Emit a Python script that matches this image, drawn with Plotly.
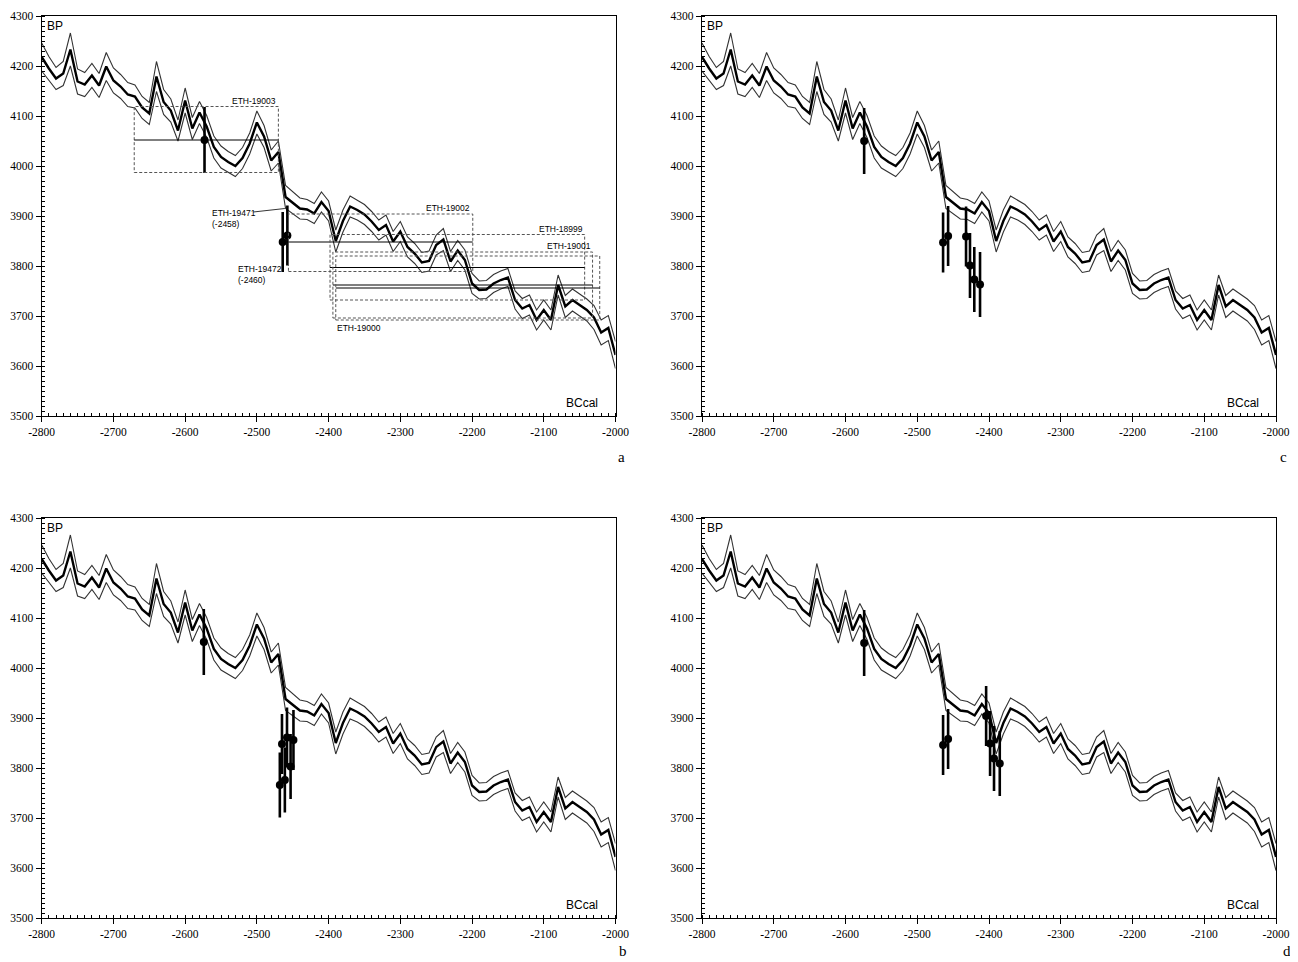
import plotly.graph_objects as go

# ---------------- calibration curve (BC cal vs BP) ----------------
years = list(range(-2800, -1999, 10))
bp_curve = [
    4218, 4195, 4175, 4185, 4233, 4169, 4163, 4181, 4161, 4199,   # -2800..-2710
    4171, 4159, 4143, 4139, 4117, 4105, 4179, 4128, 4111, 4071,   # -2700..-2610
    4131, 4075, 4107, 4079, 4038, 4018, 4008, 4000, 4016, 4045,   # -2600..-2510
    4087, 4059, 4011, 4028, 3938, 3926, 3915, 3913, 3905, 3928,   # -2500..-2410
    3910, 3850, 3890, 3919, 3912, 3903, 3889, 3872, 3882, 3849,   # -2400..-2310
    3869, 3838, 3825, 3807, 3810, 3842, 3853, 3809, 3831, 3812,   # -2300..-2210
    3765, 3752, 3753, 3765, 3772, 3777, 3732, 3715, 3722, 3692,   # -2200..-2110
    3712, 3692, 3762, 3719, 3732, 3722, 3712, 3697, 3667, 3676,   # -2100..-2010
    3622,                                                         # -2000
]
bp_sigma = [
    28, 24, 22, 24, 33, 25, 24, 24, 24, 28,
    25, 24, 24, 23, 22, 22, 30, 25, 23, 21,
    25, 22, 22, 22, 22, 22, 21, 21, 21, 21,
    23, 22, 21, 22, 23, 22, 21, 20, 20, 20,
    20, 22, 22, 21, 20, 20, 20, 20, 20, 20,
    20, 20, 20, 20, 20, 20, 22, 20, 20, 20,
    20, 18, 18, 18, 18, 18, 18, 20, 20, 20,
    20, 20, 20, 22, 22, 22, 22, 24, 25, 25,
    27,
]

# ---------------- samples ----------------
sample_err = [66, 60, 60, 60, 65, 65, 65]   # ETH-19003, 19472, 19471, 19002, 18999, 19001, 19000

a_x = [-2573, -2464, -2457.5]
a_bp = [4052, 3848, 3861]
a_err = [66, 60, 60]

b_x = [-2574, -2465, -2458, -2449, -2453, -2461, -2468]
b_bp = [4052, 3848, 3861, 3856, 3803, 3776, 3766]

c_x = [-2574, -2464, -2457, -2432, -2426.5, -2420.5, -2412.5]
c_bp = [4050, 3847, 3860, 3859, 3801, 3773, 3763]

d_x = [-2574, -2464, -2457, -2404, -2398.5, -2393, -2385]
d_bp = [4050, 3846, 3858, 3904, 3849, 3819, 3809]

# ---------------- boxes in panel a ----------------
box_names = ["ETH-19003", "ETH-19002", "ETH-18999", "ETH-19001", "ETH-19000"]
box_x0 = [-2671, -2456, -2398, -2394, -2390]
box_x1 = [-2470, -2199, -2043, -2032, -2022]
box_bp = [4052, 3848, 3797, 3762, 3756]
box_y0 = [3987, 3789, 3732, 3696, 3692]
box_y1 = [4119, 3904, 3863, 3828, 3820]

# label positions (data coords of panel a)
lab_text = ["ETH-19003", "ETH-19002", "ETH-18999", "ETH-19001", "ETH-19000",
            "ETH-19471<br>(-2458)", "ETH-19472<br>(-2460)"]
lab_x = [-2471, -2200, -2043, -2032, -2391, -2565, -2529]
lab_y = [4130, 3916, 3874, 3840, 3676, 3921, 3808]
lab_anchor = ["right", "right", "right", "right", "left", "left", "left"]

x_tick_vals = list(range(-2800, -1999, 100))
x_tick_text = ["-2800", "-2700", "-2600", "-2500", "-2400", "-2300", "-2200", "-2100", "-2000"]
y_tick_vals = list(range(3500, 4301, 100))
y_tick_text = [str(v) for v in y_tick_vals]

# the page places the figure 8 px from the window's top-left corner
OFF = 8
W, H = 1298 - OFF, 962 - OFF


def px_x(p):
    return (p - OFF) / W


def px_y(p):
    return 1 - (p - OFF) / H


xdom_left = [px_x(41.7), px_x(615.5)]
xdom_right = [px_x(702), px_x(1276)]
ydom_top = [px_y(416), px_y(16)]
ydom_bot = [px_y(918), px_y(518)]

panels = [
    # (suffix, xdomain, ydomain, xs, bps, errs, letter, letter_pos)
    ("", xdom_left, ydom_top, a_x, a_bp, a_err, "a", (621, 457)),
    ("2", xdom_right, ydom_top, c_x, c_bp, sample_err, "c", (1283, 457)),
    ("3", xdom_left, ydom_bot, b_x, b_bp, sample_err, "b", (623, 951)),
    ("4", xdom_right, ydom_bot, d_x, d_bp, sample_err, "d", (1287, 951)),
]

fig = go.Figure()
layout = dict(
    width=W, height=H, margin=dict(l=0, r=0, t=0, b=0, autoexpand=False),
    paper_bgcolor="white", plot_bgcolor="white", showlegend=False,
    annotations=[], shapes=[],
)

tick_font = dict(family="Liberation Serif, Times New Roman, serif", size=11.5, color="black")
upper = [c + s for c, s in zip(bp_curve, bp_sigma)]
lower = [c - s for c, s in zip(bp_curve, bp_sigma)]

for suf, xd, yd, xs, bps, errs, letter, lpos in panels:
    xa, ya = "x" + suf, "y" + suf
    fig.add_trace(go.Scatter(x=years, y=upper, mode="lines", xaxis=xa, yaxis=ya,
                             line=dict(color="#333333", width=1.1), hoverinfo="skip"))
    fig.add_trace(go.Scatter(x=years, y=lower, mode="lines", xaxis=xa, yaxis=ya,
                             line=dict(color="#333333", width=1.1), hoverinfo="skip"))
    fig.add_trace(go.Scatter(x=years, y=bp_curve, mode="lines", xaxis=xa, yaxis=ya,
                             line=dict(color="black", width=2.4), hoverinfo="skip"))
    fig.add_trace(go.Scatter(x=xs, y=bps, mode="markers", xaxis=xa, yaxis=ya,
                             marker=dict(color="black", size=8),
                             error_y=dict(type="data", array=errs[:len(xs)], symmetric=True,
                                          thickness=2.6, width=0, color="black")))
    layout["xaxis" + suf] = dict(
        domain=xd, anchor=ya, range=[-2800, -2000], tickmode="array", automargin=False,
        tickvals=x_tick_vals, ticktext=x_tick_text, ticks="outside", ticklen=5,
        tickcolor="black", tickfont=tick_font, showline=True, linecolor="black",
        linewidth=1.3, mirror=True, showgrid=False, zeroline=False,
        minor=dict(dtick=10, tick0=-2800, ticks="inside", ticklen=3, tickcolor="black",
                   showgrid=False),
    )
    layout["yaxis" + suf] = dict(
        domain=yd, anchor=xa, range=[3500, 4300], tickmode="array", automargin=False,
        tickvals=y_tick_vals, ticktext=y_tick_text, ticks="outside", ticklen=5,
        tickcolor="black", tickfont=tick_font, showline=True, linecolor="black",
        linewidth=1.3, mirror=True, showgrid=False, zeroline=False,
        minor=dict(dtick=10, tick0=3500, ticks="inside", ticklen=3, tickcolor="black",
                   showgrid=False),
    )
    layout["annotations"].append(dict(
        text="BP", xref=xa + " domain", yref=ya + " domain", x=0.006, y=0.998,
        xanchor="left", yanchor="top", showarrow=False,
        font=dict(family="Liberation Sans, Arial, sans-serif", size=12, color="black")))
    layout["annotations"].append(dict(
        text="BCcal", xref=xa + " domain", yref=ya + " domain", x=0.973, y=0.01,
        xanchor="right", yanchor="bottom", showarrow=False,
        font=dict(family="Liberation Sans, Arial, sans-serif", size=12, color="black")))
    layout["annotations"].append(dict(
        text=letter, xref="paper", yref="paper", x=px_x(lpos[0]), y=px_y(lpos[1]),
        xanchor="center", yanchor="middle", showarrow=False,
        font=dict(family="Liberation Serif, Times New Roman, serif", size=15, color="black")))

# panel a boxes and lines
for x0, x1, yb, y0, y1 in zip(box_x0, box_x1, box_bp, box_y0, box_y1):
    layout["shapes"].append(dict(type="rect", xref="x", yref="y", x0=x0, x1=x1, y0=y0, y1=y1,
                                 line=dict(color="#555555", width=1, dash="3px,2px")))
    layout["shapes"].append(dict(type="line", xref="x", yref="y", x0=x0, x1=x1, y0=yb, y1=yb,
                                 line=dict(color="black", width=1)))

# leader line for ETH-19471
layout["shapes"].append(dict(type="line", xref="x", yref="y", x0=-2505, x1=-2461,
                             y0=3908, y1=3915, line=dict(color="black", width=0.8)))

for t, lx, ly, anc in zip(lab_text, lab_x, lab_y, lab_anchor):
    layout["annotations"].append(dict(
        text=t, xref="x", yref="y", x=lx, y=ly, xanchor=anc,
        yanchor="top" if "<br>" in t else "middle", align="left", showarrow=False,
        font=dict(family="Liberation Sans, Arial, sans-serif", size=8.5, color="black")))

fig.update_layout(**layout)
fig.write_html("out.html")
